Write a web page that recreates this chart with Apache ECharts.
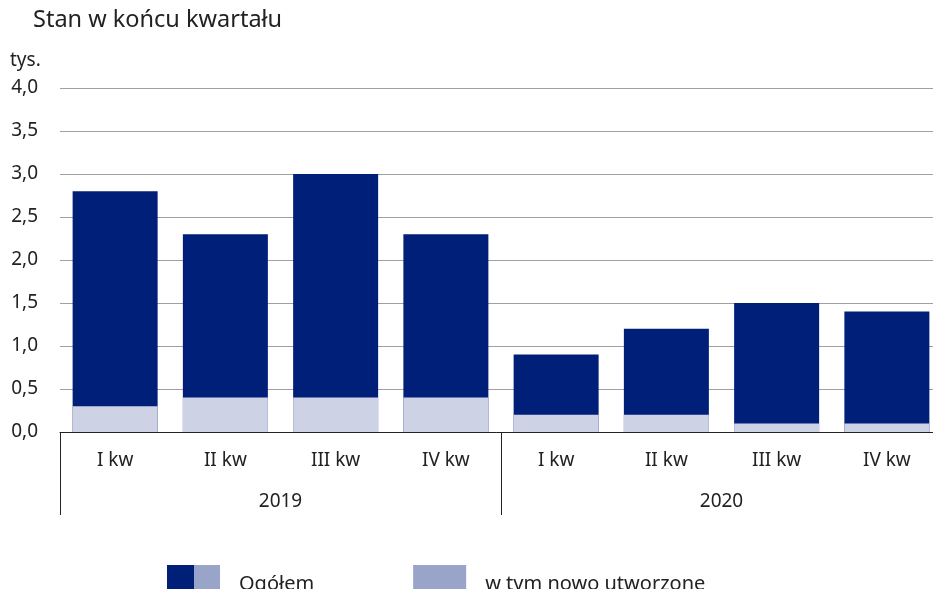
<!DOCTYPE html>
<html>
<head>
<meta charset="utf-8">
<script src="https://cdn.jsdelivr.net/npm/echarts@6/dist/echarts.min.js"></script>
<style>
  html, body { margin: 0; padding: 0; background: #fff; }
  #main { width: 933px; height: 589px; }
</style>
</head>
<body>
<div id="main"></div>
<script>
// dane
var quarters = ['I kw', 'II kw', 'III kw', 'IV kw', 'I kw', 'II kw', 'III kw', 'IV kw'];
var years = ['2019', '2020'];
var totalValues = [2.8, 2.3, 3.0, 2.3, 0.9, 1.2, 1.5, 1.4];
var newValues = [0.3, 0.4, 0.4, 0.4, 0.2, 0.2, 0.1, 0.1];
var yTicks = [0, 0.5, 1, 1.5, 2, 2.5, 3, 3.5, 4];

var font = '"Noto Sans", "Open Sans", sans-serif';
var dark = '#001f78';
var light = '#cdd3e4';

var myChart = echarts.init(document.getElementById('main'));

var option = {
    animation: false,
    title: {
        text: 'Stan w końcu kwartału',
        left: 33, top: 8, padding: 0,
        textStyle: { fontFamily: font, fontSize: 23.5, fontWeight: 'normal', color: '#222' }
    },
    legend: {
        left: 167, top: 565, padding: 0,
        itemWidth: 53, itemHeight: 25, itemGap: 99,
        icon: 'rect',
        formatter: '{t|{name}}',
        textStyle: {
            fontFamily: font, fontSize: 20, color: '#222', padding: [0, 0, 0, 14],
            rich: { t: { fontFamily: font, fontSize: 20, color: '#222', padding: [14, 0, 0, 0] } }
        },
        data: [
            { name: 'Ogółem', itemStyle: { color: dark } },
            { name: 'w tym nowo utworzone', itemStyle: { color: '#98a4c8' } }
        ]
    },
    graphic: [{
        type: 'rect', left: 194, top: 565, z: 100,
        shape: { width: 26, height: 25 },
        style: { fill: '#98a4c8' }
    }],
    grid: { left: 60, top: 88, width: 882, height: 344, outerBoundsMode: 'none' },
    xAxis: [{
        type: 'category',
        data: quarters,
        axisLine: { show: true, lineStyle: { color: '#222', width: 1 } },
        axisTick: { show: false },
        axisLabel: { fontFamily: font, fontSize: 19, color: '#222', margin: 19 }
    }, {
        type: 'category',
        data: years,
        position: 'bottom',
        axisLine: { show: false },
        axisTick: { show: true, length: 83, lineStyle: { color: '#222', width: 1 } },
        axisLabel: { fontFamily: font, fontSize: 19, color: '#222', margin: 60 }
    }],
    yAxis: {
        type: 'value',
        min: 0, max: 4, interval: 0.5,
        name: 'tys.',
        nameLocation: 'end',
        nameGap: 18,
        nameTextStyle: { fontFamily: font, fontSize: 19, color: '#222', align: 'left', padding: [0, 0, 0, -50] },
        axisLine: { show: false },
        axisTick: { show: false },
        splitLine: { lineStyle: { color: '#a0a0a0', width: 1 } },
        axisLabel: {
            fontFamily: font, fontSize: 19, color: '#222', margin: 22,
            formatter: function (v) { return yTicks.indexOf(v) >= 0 ? v.toFixed(1).replace('.', ',') : ''; }
        }
    },
    series: [{
        name: 'Ogółem',
        type: 'bar',
        data: totalValues,
        barWidth: 85,
        barGap: '-100%',
        itemStyle: { color: dark }
    }, {
        name: 'w tym nowo utworzone',
        type: 'bar',
        data: newValues,
        barWidth: 85,
        barGap: '-100%',
        itemStyle: { color: light }
    }]
};

myChart.setOption(option);
</script>
</body>
</html>
